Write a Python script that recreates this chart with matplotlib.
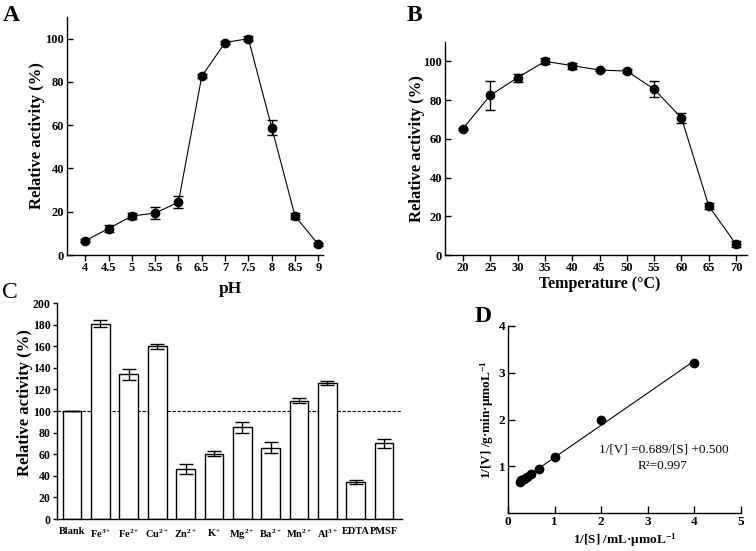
import matplotlib
matplotlib.use("Agg")
import matplotlib.pyplot as plt
import numpy as np

plt.rcParams["font.family"] = "Liberation Serif"
plt.rcParams["font.weight"] = "bold"
plt.rcParams["mathtext.fontset"] = "custom"
plt.rcParams["mathtext.rm"] = "Liberation Serif:bold"
plt.rcParams["mathtext.it"] = "Liberation Serif:bold"
plt.rcParams["mathtext.bf"] = "Liberation Serif:bold"

# Panel A: pH
ph = [4, 4.5, 5, 5.5, 6, 6.5, 7, 7.5, 8, 8.5, 9]
ph_labels = ["4", "4.5", "5", "5.5", "6", "6.5", "7", "7.5", "8", "8.5", "9"]
ph_act = [6.6, 12.2, 18.0, 19.4, 24.4, 82.6, 98.2, 100.0, 58.9, 18.0, 4.9]
ph_err = [0.8, 1.5, 1.2, 2.8, 2.8, 1.0, 0.8, 1.2, 3.6, 1.2, 0.8]

# Panel B: temperature
temp = [20, 25, 30, 35, 40, 45, 50, 55, 60, 65, 70]
temp_act = [65.3, 82.5, 91.6, 100.0, 97.8, 95.5, 95.0, 85.6, 70.8, 25.3, 5.5]
temp_err = [0.5, 7.4, 2.0, 1.5, 1.5, 0.5, 0.8, 4.2, 2.5, 1.5, 1.5]

# Panel C: metal ions / inhibitors
ions = ["Blank", "Fe$^{3+}$", "Fe$^{2+}$", "Cu$^{2+}$", "Zn$^{2+}$", "K$^{+}$",
        "Mg$^{2+}$", "Ba$^{2+}$", "Mn$^{2+}$", "Al$^{3+}$", "EDTA", "PMSF"]
ion_act = [100, 181, 134, 160, 46.5, 60.5, 85, 66, 109.5, 126, 34.5, 70]
ion_err = [0, 3, 5, 2.5, 4.5, 2.5, 5, 5, 2.5, 2, 2, 4.5]

# Panel D: Lineweaver-Burk
inv_s = [0.25, 0.2857, 0.3333, 0.4, 0.5, 0.6667, 1, 2, 4]
inv_v = [0.66, 0.70, 0.73, 0.77, 0.83, 0.95, 1.19, 1.98, 3.21]
slope, intercept, r2 = 0.689, 0.500, 0.997

W, H = 756, 551
fig = plt.figure(figsize=(W / 100, H / 100), dpi=100)


def px_axes(left, top, right, bottom):
    return fig.add_axes([left / W, 1 - bottom / H, (right - left) / W, (bottom - top) / H])


def style(ax, xdir="out", ydir="out", size=9):
    for s in ["top", "right"]:
        ax.spines[s].set_visible(False)
    for s in ["left", "bottom"]:
        ax.spines[s].set_linewidth(1.0)
    ax.tick_params(axis="x", direction=xdir, length=4, width=1.0, labelsize=size, pad=2)
    ax.tick_params(axis="y", direction=ydir, length=4, width=1.0, labelsize=size, pad=2)


lab = dict(fontsize=12, fontweight="bold")

# A
axA = px_axes(67, 17, 323, 255)
axA.errorbar(ph, ph_act, yerr=ph_err, color="black", marker="o", ms=6, lw=0.8,
             elinewidth=1.0, capsize=3.5, capthick=1.0)
axA.set_xlim(3.61, 9.1)
axA.set_ylim(0, 110)
axA.set_xticks(ph)
axA.set_xticklabels(ph_labels)
axA.set_yticks(range(0, 101, 20))
style(axA, ydir="in")
axA.tick_params(axis="x", pad=1)
axA.set_ylabel("Relative activity (%)", **lab)
axA.yaxis.set_label_coords(-0.085, 0.5)
axA.set_xlabel("pH", fontsize=12.5, fontweight="bold")
axA.xaxis.set_label_coords(0.637, -0.11)

# B
axB = px_axes(445, 42, 747, 255)
axB.errorbar(temp, temp_act, yerr=temp_err, color="black", marker="o", ms=6, lw=0.8,
             elinewidth=1.0, capsize=3.5, capthick=1.0)
axB.set_xlim(16.7, 72)
axB.set_ylim(0, 110)
axB.set_xticks(temp)
axB.set_yticks(range(0, 101, 20))
style(axB, ydir="in")
axB.tick_params(axis="x", pad=1)
axB.set_ylabel("Relative activity (%)", **lab)
axB.yaxis.set_label_coords(-0.065, 0.5)
axB.set_xlabel("Temperature (°C)", fontsize=11.5, fontweight="bold")
axB.xaxis.set_label_coords(0.513, -0.10)

# C
axC = px_axes(57, 303, 402, 519)
xc = np.arange(len(ions))
axC.bar(xc, ion_act, width=0.66, color="white", edgecolor="black", linewidth=1.0, zorder=2)
axC.errorbar(xc, ion_act, yerr=ion_err, fmt="none", ecolor="black", elinewidth=1.0,
             capsize=5, capthick=1.0, zorder=3)
axC.axhline(100, color="black", ls="--", lw=0.8, dashes=(3, 1.5), zorder=1)
axC.set_xlim(-0.53, 11.63)
axC.set_ylim(0, 200)
axC.set_xticks(xc)
axC.set_xticklabels(ions)
axC.set_yticks(range(0, 201, 20))
style(axC, xdir="in")
axC.tick_params(axis="y", length=3, pad=1.5, labelsize=8.5)
axC.tick_params(axis="x", length=3, pad=6, labelsize=7.5)
axC.set_ylabel("Relative activity (%)", fontsize=12, fontweight="bold")
axC.yaxis.set_label_coords(-0.07, 0.54)

# D
axD = px_axes(508, 326, 741, 513)
xfit = np.array([min(inv_s), max(inv_s)])
axD.plot(xfit, slope * xfit + intercept, color="black", lw=0.8)
axD.plot(inv_s, inv_v, "o", color="black", ms=6)
axD.set_xlim(0, 5)
axD.set_ylim(0, 4)
axD.set_xticks(range(0, 6))
axD.set_yticks([1, 2, 3, 4])
style(axD, xdir="in", ydir="in", size=9.5)
axD.tick_params(axis="both", length=5)
axD.set_xlabel("1/[S] /mL·µmoL$^{-1}$", fontsize=9.5, fontweight="bold")
axD.xaxis.set_label_coords(0.5, -0.10)
axD.set_ylabel("1/[V] /g·min·µmoL$^{-1}$", fontsize=9.5, fontweight="bold")
axD.yaxis.set_label_coords(-0.05, 0.5)
axD.text(0.67, 0.337, f"1/[V] ={slope:.3f}/[S] +{intercept:.3f}", transform=axD.transAxes,
         ha="center", va="center", fontsize=9.5, fontweight="normal")
axD.text(0.665, 0.25, f"R²={r2:.3f}", transform=axD.transAxes,
         ha="center", va="center", fontsize=9.5, fontweight="normal")

# panel letters
fig.text(3 / W, 1 - 5 / H, "A", fontsize=17, fontweight="bold", va="top", ha="left")
fig.text(407 / W, 1 - 5 / H, "B", fontsize=17, fontweight="bold", va="top", ha="left")
fig.text(2 / W, 1 - 282 / H, "C", fontsize=17, fontweight="normal", va="top", ha="left")
fig.text(475 / W, 1 - 306 / H, "D", fontsize=17, fontweight="bold", va="top", ha="left")

fig.savefig("out.png", dpi=100)
